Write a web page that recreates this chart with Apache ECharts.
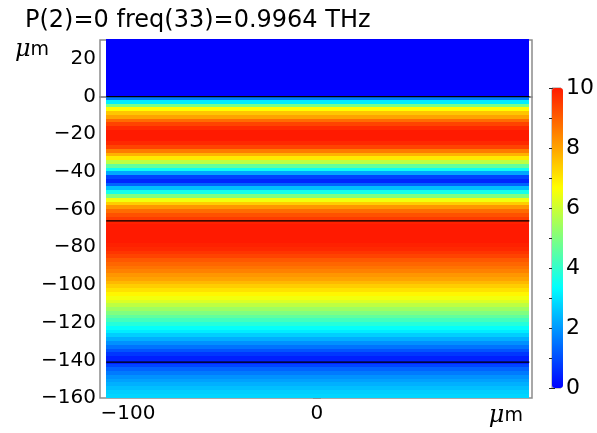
<!DOCTYPE html>
<html>
<head>
<meta charset="utf-8">
<script src="https://cdn.jsdelivr.net/npm/echarts@6/dist/echarts.min.js"></script>
<style>html,body{margin:0;padding:0;background:#fff;}#c{width:597px;height:433px;}</style>
</head>
<body>
<div id="c"></div>
<script>
// ---- data ----
const titleText = 'P(2)=0 freq(33)=0.9964 THz';
// row centres (µm) and field values (rows 2 µm tall)
const rowY = [29,27,25,23,21,19,17,15,13,11,9,7,5,3,1,
  -1,-3,-5,-7,-9,-11,-13,-15,-17,-19,-21,-23,-25,-27,-29,-31,-33,-35,-37,-39,
  -41,-43,-45,-47,-49,-51,-53,-55,-57,-59,-61,-63,-65,-67,-69,-71,-73,-75,-77,-79,
  -81,-83,-85,-87,-89,-91,-93,-95,-97,-99,-101,-103,-105,-107,-109,-111,-113,-115,-117,-119,
  -121,-123,-125,-127,-129,-131,-133,-135,-137,-139,-141,-143,-145,-147,-149,-151,-153,-155,-157,-159];
const rowVal = [0,0,0,0,0,0,0,0,0,0,0,0,0,0,0,
  1.6,3.1,4.9,6.7,7.5,8.0,8.8,9.4,9.8,10.0,10.0,10.0,9.8,9.4,8.6,7.8,7.0,5.8,4.6,3.5,
  2.2,0.9,0.5,1.3,2.5,3.6,5.0,6.5,7.4,8.2,8.8,9.2,9.5,9.9,10.0,10.0,10.0,10.0,10.0,9.9,
  9.8,9.6,9.4,9.1,8.9,8.7,8.5,8.2,8.0,7.7,7.4,7.1,6.8,6.5,6.2,5.8,5.4,5.0,4.6,4.2,
  3.8,3.4,3.1,2.7,2.3,1.9,1.5,1.1,0.7,0.4,0.4,0.9,1.3,1.6,1.9,2.1,2.3,2.5,2.7,2.8];
const rowHeight = 2;
const geomX = [-111.5, 112.4];          // geometry extent in x
const boundaries = [0, -66, -141];      // interface lines
const xTicks = [-100, 0, 100];
const yTicks = [-160,-140,-120,-100,-80,-60,-40,-20,0,20];
const cbTicks = [0,1,2,3,4,5,6,7,8,9,10];
const xRange = [-114.8, 113.8];
const yRange = [-160, 30];
const cRange = [0, 10];

const FONT = 'DejaVu Sans';
const minus = v => String(v).replace('-', '\u2212');
const frameColor = '#8c8c8c';

const chart = echarts.init(document.getElementById('c'), null, {renderer:'canvas'});

const series = [{
  type: 'custom',
  xAxisIndex: 0, yAxisIndex: 0,
  data: rowY.map((y, i) => [y, rowVal[i]]),
  encode: { y: 0 },
  renderItem: function (params, api) {
    const yc = api.value(0);
    const p1 = api.coord([geomX[0], yc + rowHeight / 2]);
    const p2 = api.coord([geomX[1], yc - rowHeight / 2]);
    const top = Math.floor(p1[1]);
    const bot = Math.min(Math.ceil(p2[1]) + 1, api.coord([0, yRange[0]])[1]);
    return {
      type: 'rect',
      shape: { x: Math.round(p1[0]), y: top, width: Math.round(p2[0]) - Math.round(p1[0]), height: bot - top },
      style: { fill: api.visual('color'), stroke: null, lineWidth: 0 }
    };
  },
  silent: true
}];
boundaries.forEach(b => {
  series.push({
    type: 'line', xAxisIndex: 0, yAxisIndex: 0,
    data: [[geomX[0], b], [geomX[1], b]],
    symbol: 'none', silent: true,
    lineStyle: { color: '#000', width: 1.2 }
  });
});

const option = {
  animation: false,
  backgroundColor: '#fff',
  title: {
    text: titleText, left: 20, top: 4,
    textStyle: { fontFamily: FONT, fontSize: 24, fontWeight: 'normal', color: '#000' }
  },
  graphic: [{
    type: 'text', left: 15, top: 38,
    style: {
      text: '{mu|\u03bc}{m|m}',
      rich: {
        mu: { fontFamily: 'DejaVu Serif', fontStyle: 'italic', fontSize: 24, fill: '#000' },
        m: { fontFamily: FONT, fontSize: 19, fill: '#000' }
      }
    }
  }],
  grid: [
    { left: 100, right: 65, top: 40, bottom: 35, show: true, borderColor: frameColor, borderWidth: 1.5, backgroundColor: 'transparent' },
    { left: 552, top: 88, width: 11, height: 300, show: true, borderColor: '#777', borderWidth: 0.8, backgroundColor: 'transparent' }
  ],
  xAxis: [
    { type: 'value', gridIndex: 0, position: 'bottom', min: xRange[0], max: xRange[1],
      axisLine: { show: true, lineStyle: { color: frameColor, width: 1.5 } },
      axisTick: { show: true, inside: true, length: 4, customValues: xTicks, lineStyle: { color: '#555' } },
      axisLabel: { customValues: xTicks, margin: 6, color: '#000', fontFamily: FONT, fontSize: 20,
        formatter: v => v === 100 ? '{mu|\u03bc}{m|m}' : minus(v),
        rich: {
          mu: { fontFamily: 'DejaVu Serif', fontStyle: 'italic', fontSize: 24, color: '#000' },
          m: { fontFamily: FONT, fontSize: 19, color: '#000' }
        } },
      splitLine: { show: false } },
    { type: 'value', gridIndex: 0, position: 'top', min: xRange[0], max: xRange[1],
      axisLine: { show: true, lineStyle: { color: frameColor, width: 1.5 } },
      axisTick: { show: true, inside: true, length: 4, customValues: xTicks, lineStyle: { color: '#555' } },
      axisLabel: { show: false }, splitLine: { show: false } },
    { type: 'value', gridIndex: 1, min: 0, max: 1, show: false }
  ],
  yAxis: [
    { type: 'value', gridIndex: 0, position: 'left', min: yRange[0], max: yRange[1],
      axisLine: { show: true, lineStyle: { color: frameColor, width: 1.5 } },
      axisTick: { show: true, inside: false, length: 4, customValues: yTicks, lineStyle: { color: frameColor } },
      axisLabel: { customValues: yTicks, margin: 4, color: '#000', fontFamily: FONT, fontSize: 20, formatter: v => minus(v) },
      splitLine: { show: false } },
    { type: 'value', gridIndex: 0, position: 'right', min: yRange[0], max: yRange[1],
      axisLine: { show: true, lineStyle: { color: frameColor, width: 1.5 } },
      axisTick: { show: true, inside: false, length: 4, customValues: yTicks, lineStyle: { color: frameColor } },
      axisLabel: { show: false }, splitLine: { show: false } },
    { type: 'value', gridIndex: 1, position: 'right', min: cRange[0], max: cRange[1],
      axisLine: { show: false },
      axisTick: { show: true, inside: true, length: 3, customValues: cbTicks, lineStyle: { color: '#222' } },
      axisLabel: { customValues: cbTicks, margin: 5, color: '#000', fontFamily: FONT, fontSize: 22,
        formatter: v => (v % 2 === 0 ? String(v) : '') },
      splitLine: { show: false } },
    { type: 'value', gridIndex: 1, position: 'left', min: cRange[0], max: cRange[1],
      axisLine: { show: false },
      axisTick: { show: true, inside: true, length: 3, customValues: cbTicks, lineStyle: { color: '#222' } },
      axisLabel: { show: false }, splitLine: { show: false } }
  ],
  visualMap: {
    type: 'continuous', seriesIndex: 0, dimension: 1,
    min: cRange[0], max: cRange[1], calculable: false, realtime: false,
    show: true, left: 552, top: 88, itemWidth: 11, itemHeight: 300, padding: 0,
    text: null, showLabel: false,
    inRange: { color: ['#0000ff', '#00ffff', '#ffff00', '#ff1a00'] }
  },
  series: series
};
chart.setOption(option);
</script>
</body>
</html>
